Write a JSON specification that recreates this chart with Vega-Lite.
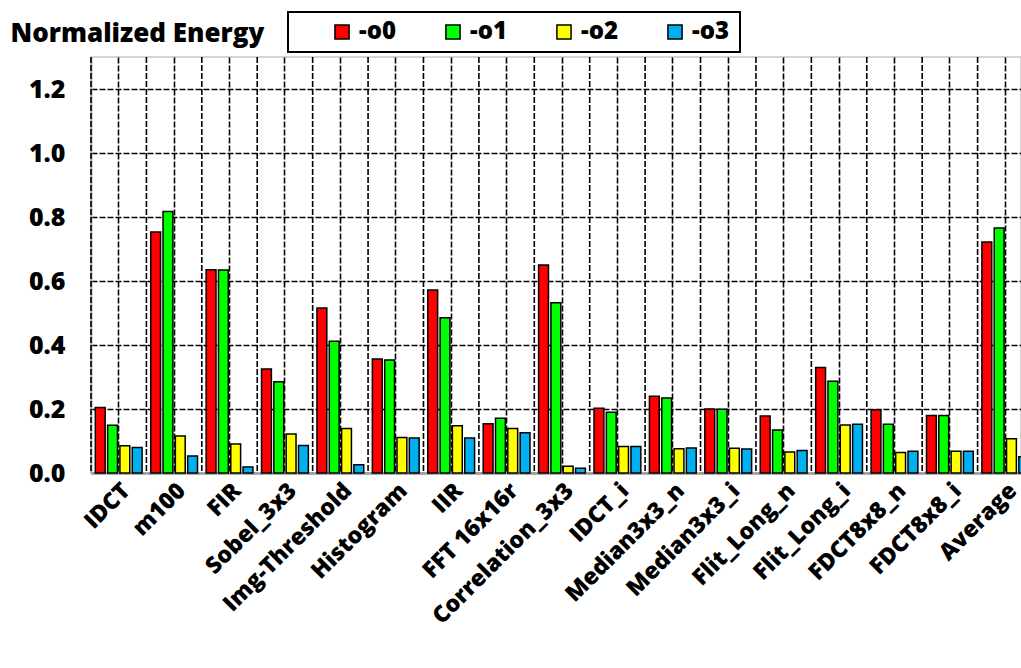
{
  "$schema": "https://vega.github.io/schema/vega-lite/v6.json",
  "width": 930,
  "height": 416,
  "autosize": {"type": "none"},
  "padding": {"left": 91, "top": 57, "right": 0, "bottom": 195},
  "background": "white",
  "config": {
    "font": "Open Sans",
    "view": {"stroke": "#c8c8c8", "strokeWidth": 1.5},
    "axis": {"labelFont": "Open Sans", "labelFontWeight": 800, "labelColor": "black", "titleFont": "Open Sans", "titleFontWeight": 800, "titleColor": "black"}
  },
  "data": {
    "values": [
      {"cat": "IDCT", "o0": 0.205, "o1": 0.149, "o2": 0.085, "o3": 0.080},
      {"cat": "m100", "o0": 0.753, "o1": 0.817, "o2": 0.116, "o3": 0.053},
      {"cat": "FIR", "o0": 0.635, "o1": 0.634, "o2": 0.091, "o3": 0.019},
      {"cat": "Sobel_3x3", "o0": 0.325, "o1": 0.285, "o2": 0.122, "o3": 0.086},
      {"cat": "Img-Threshold", "o0": 0.516, "o1": 0.412, "o2": 0.139, "o3": 0.026},
      {"cat": "Histogram", "o0": 0.356, "o1": 0.353, "o2": 0.111, "o3": 0.109},
      {"cat": "IIR", "o0": 0.572, "o1": 0.485, "o2": 0.148, "o3": 0.109},
      {"cat": "FFT 16x16r", "o0": 0.154, "o1": 0.171, "o2": 0.139, "o3": 0.126},
      {"cat": "Correlation_3x3", "o0": 0.650, "o1": 0.532, "o2": 0.021, "o3": 0.015},
      {"cat": "IDCT_i", "o0": 0.202, "o1": 0.190, "o2": 0.083, "o3": 0.083},
      {"cat": "Median3x3_n", "o0": 0.240, "o1": 0.234, "o2": 0.076, "o3": 0.078},
      {"cat": "Median3x3_i", "o0": 0.200, "o1": 0.199, "o2": 0.077, "o3": 0.075},
      {"cat": "Flit_Long_n", "o0": 0.178, "o1": 0.134, "o2": 0.066, "o3": 0.070},
      {"cat": "Flit_Long_i", "o0": 0.330, "o1": 0.287, "o2": 0.150, "o3": 0.152},
      {"cat": "FDCT8x8_n", "o0": 0.198, "o1": 0.152, "o2": 0.064, "o3": 0.068},
      {"cat": "FDCT8x8_i", "o0": 0.180, "o1": 0.180, "o2": 0.068, "o3": 0.068},
      {"cat": "Average", "o0": 0.722, "o1": 0.766, "o2": 0.107, "o3": 0.051}
    ]
  },
  "transform": [{"fold": ["o0", "o1", "o2", "o3"], "as": ["series", "value"]}],
  "encoding": {
    "x": {
      "field": "cat", "type": "nominal", "sort": null,
      "scale": {"paddingInner": 0, "paddingOuter": 0, "range": [0, 942]},
      "axis": {
        "title": null, "labelAngle": -45, "labelFontSize": 23, "labelPadding": 6,
        "ticks": false, "grid": true, "gridColor": "black", "gridDash": [6, 2], "gridWidth": 1.6,
        "domainColor": "#a0a0a0", "domainWidth": 2.5, "labelOverlap": false, "labelLimit": 300
      }
    }
  },
  "layer": [
    {
      "transform": [{"filter": "datum.series === 'o0'"}],
      "mark": {"type": "rule", "color": "black", "strokeDash": [6, 2], "strokeWidth": 1.6},
      "encoding": {"x": {"field": "cat", "type": "nominal", "sort": null, "bandPosition": 0}}
    },
    {
      "mark": {"type": "bar", "stroke": "black", "strokeWidth": 1.5},
      "encoding": {
        "xOffset": {"field": "series", "type": "nominal", "scale": {"paddingInner": 0.2, "paddingOuter": 0.35}},
        "y": {
          "field": "value", "type": "quantitative",
          "scale": {"domain": [0, 1.3], "nice": false, "zero": true},
          "axis": {
            "title": "Normalized Energy", "titleAngle": 0, "titleFontSize": 26, "titleAlign": "left",
            "titleBaseline": "alphabetic", "titleX": -81, "titleY": -16,
            "values": [0, 0.2, 0.4, 0.6, 0.8, 1.0, 1.2], "format": ".1f",
            "labelFontSize": 25, "labelPadding": 6, "ticks": true, "tickSize": 20, "tickColor": "transparent",
            "grid": true, "gridColor": "black", "gridDash": [6, 2], "gridWidth": 1.6,
            "domainColor": "#b0b0b0", "domainWidth": 2
          }
        },
        "color": {
          "field": "series", "type": "nominal",
          "scale": {"domain": ["o0", "o1", "o2", "o3"], "range": ["#FF0000", "#00FF00", "#FFFF00", "#00B0F0"]},
          "legend": {
            "orient": "none", "legendX": 197, "legendY": -45, "direction": "horizontal",
            "title": " ", "titleOrient": "right", "titleFontSize": 10, "titlePadding": 3,
            "padding": 8, "strokeColor": "black", "fillColor": "white",
            "symbolType": "square", "symbolSize": 200, "symbolStrokeColor": "black", "symbolStrokeWidth": 1.5, "symbolOpacity": 1,
            "symbolOffset": 34,
            "labelFont": "Open Sans", "labelFontWeight": 800, "labelFontSize": 24, "labelColor": "black",
            "labelOffset": 5, "columnPadding": 11,
            "labelExpr": "'-' + datum.label",
            "encode": {"legend": {"update": {"strokeWidth": {"value": 2}}}}
          }
        }
      }
    }
  ]
}
